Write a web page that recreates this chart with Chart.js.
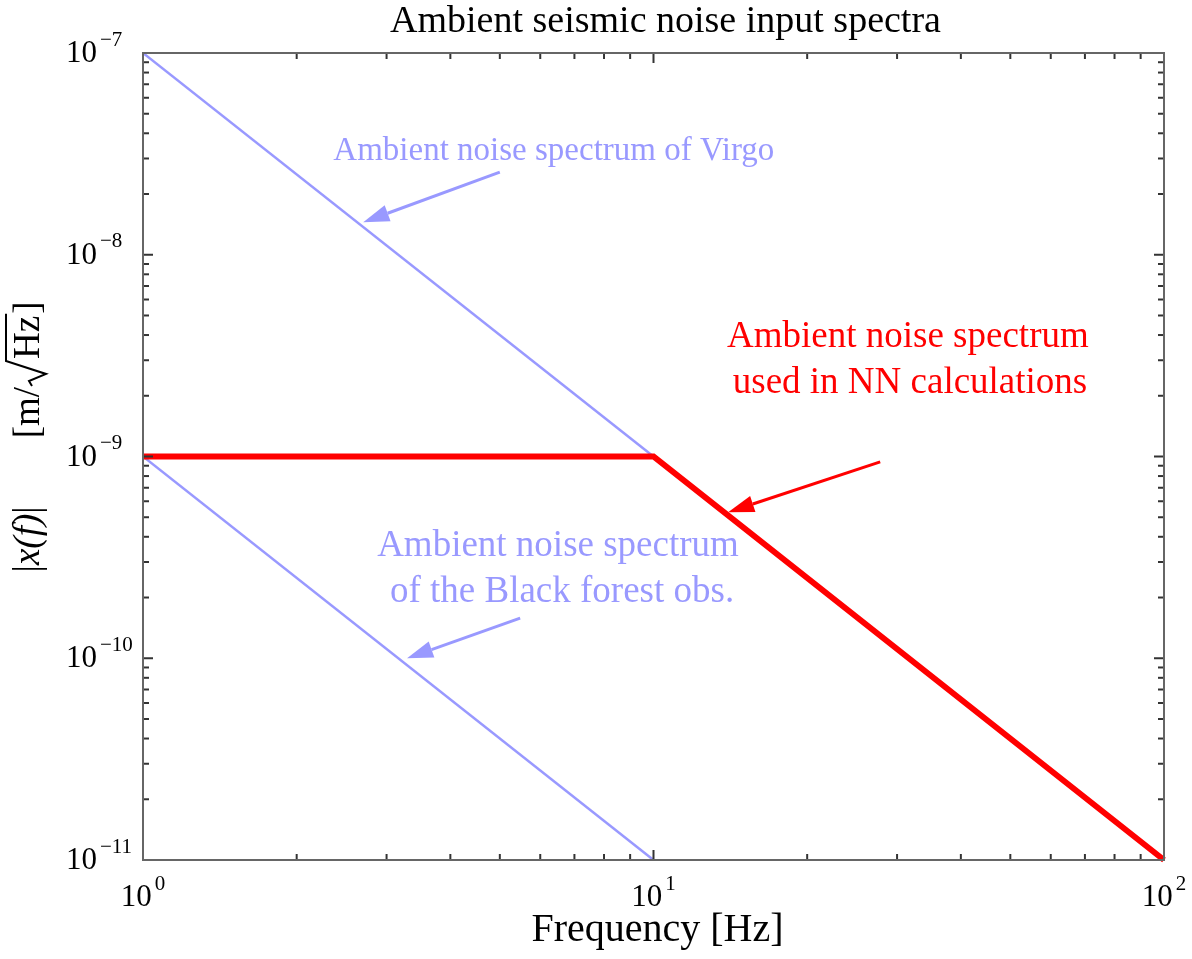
<!DOCTYPE html>
<html>
<head>
<meta charset="utf-8">
<script src="https://cdn.jsdelivr.net/npm/chart.js@4"></script>
<style>
  html, body { margin: 0; padding: 0; background: #fff; }
  #wrap { width: 1192px; height: 959px; }
</style>
</head>
<body>
<div id="wrap"><canvas id="myChart"></canvas></div>
<script>
// Spectra (frequency in Hz, amplitude in m/sqrt(Hz))
const freqVirgo = [1, 10];
const ampVirgo = [1e-7, 1e-9];

const freqBlackForest = [1, 10];
const ampBlackForest = [1e-9, 1e-11];

const freqNN = [1, 10, 100];
const ampNN = [1e-9, 1e-9, 1e-11];

// Axis decades (exponents of 10)
const xExponents = [0, 1, 2];
const yExponents = [-11, -10, -9, -8, -7];

const titleText = 'Ambient seismic noise input spectra';
const xTitle = 'Frequency [Hz]';

const blue = 'rgb(153, 153, 255)';
const red = 'rgb(255, 0, 0)';

// Annotation labels, anchored in data units
const noteLines = [
    { text: 'Ambient noise spectrum of Virgo', f: 6.38, a: 3.25e-8, color: blue, size: 33 },
    { text: 'Ambient noise spectrum', f: 31.5, a: 3.9e-9, color: red, size: 37 },
    { text: 'used in NN calculations', f: 31.8, a: 2.3e-9, color: red, size: 37 },
    { text: 'Ambient noise spectrum', f: 6.5, a: 3.6e-10, color: blue, size: 37 },
    { text: 'of the Black forest obs.', f: 6.62, a: 2.12e-10, color: blue, size: 37 }
];

// Arrows: from label (tail) to curve (head)
const arrows = [
    { f0: 5.0, a0: 2.57e-8, f1: 2.7, a1: 1.45e-8, color: blue },
    { f0: 27.8, a0: 9.4e-10, f1: 14.0, a1: 5.3e-10, color: red },
    { f0: 5.48, a0: 1.58e-10, f1: 3.29, a1: 1.0e-10, color: blue }
];

const serif = '"Liberation Serif", "Times New Roman", serif';

function toPoints(xs, ys) {
    return xs.map((v, i) => ({ x: v, y: ys[i] }));
}

function drawPower(ctx, xPos, yPos, exp, mode) {
    const base = '10';
    const sup = exp < 0 ? '\u2212' + Math.abs(exp) : String(exp);
    ctx.font = '31px ' + serif;
    const bw = ctx.measureText(base).width;
    ctx.font = '21px ' + serif;
    const sw = ctx.measureText(sup).width;
    let bx;
    if (mode === 'y') {
        bx = xPos - bw;             // base ends at xPos
    } else {
        bx = xPos - (bw + 3 + sw) / 2; // whole label centred
    }
    ctx.textBaseline = 'middle';
    ctx.textAlign = 'left';
    ctx.font = '31px ' + serif;
    ctx.fillText(base, bx, yPos);
    ctx.font = '21px ' + serif;
    ctx.fillText(sup, bx + bw + 3, yPos - 14);
}

function drawArrow(ctx, x0, y0, x1, y1, color) {
    const ang = Math.atan2(y1 - y0, x1 - x0);
    const len = 26, half = 8.5;
    const bx = x1 - len * Math.cos(ang), by = y1 - len * Math.sin(ang);
    ctx.strokeStyle = color;
    ctx.fillStyle = color;
    ctx.lineWidth = 3;
    ctx.beginPath();
    ctx.moveTo(x0, y0);
    ctx.lineTo(bx, by);
    ctx.stroke();
    ctx.beginPath();
    ctx.moveTo(x1, y1);
    ctx.lineTo(bx + half * Math.sin(ang), by - half * Math.cos(ang));
    ctx.lineTo(bx - half * Math.sin(ang), by + half * Math.cos(ang));
    ctx.closePath();
    ctx.fill();
}

// Frame, inward ticks, tick labels, titles and annotations
const decorations = {
    id: 'decorations',
    afterDatasetsDraw(chart) {
        const { ctx, chartArea: a, scales: { x, y } } = chart;
        ctx.save();

        // notes and arrows
        ctx.textAlign = 'center';
        ctx.textBaseline = 'middle';
        noteLines.forEach(n => {
            ctx.font = n.size + 'px ' + serif;
            ctx.fillStyle = n.color;
            ctx.fillText(n.text, x.getPixelForValue(n.f), y.getPixelForValue(n.a));
        });
        arrows.forEach(r => {
            drawArrow(ctx, x.getPixelForValue(r.f0), y.getPixelForValue(r.a0),
                x.getPixelForValue(r.f1), y.getPixelForValue(r.a1), r.color);
        });

        // ticks
        ctx.strokeStyle = '#333';
        ctx.lineWidth = 2;
        const tick = (x0, y0, x1, y1) => {
            ctx.beginPath(); ctx.moveTo(x0, y0); ctx.lineTo(x1, y1); ctx.stroke();
        };
        xExponents.forEach((e, i) => {
            const px = x.getPixelForValue(Math.pow(10, e));
            tick(px, a.bottom, px, a.bottom - 10);
            tick(px, a.top, px, a.top + 10);
            if (i < xExponents.length - 1) {
                for (let k = 2; k <= 9; k++) {
                    const mx = x.getPixelForValue(k * Math.pow(10, e));
                    tick(mx, a.bottom, mx, a.bottom - 6);
                    tick(mx, a.top, mx, a.top + 6);
                }
            }
        });
        yExponents.forEach((e, i) => {
            const py = y.getPixelForValue(Math.pow(10, e));
            tick(a.left, py, a.left + 10, py);
            tick(a.right, py, a.right - 10, py);
            if (i < yExponents.length - 1) {
                for (let k = 2; k <= 9; k++) {
                    const my = y.getPixelForValue(k * Math.pow(10, e));
                    tick(a.left, my, a.left + 6, my);
                    tick(a.right, my, a.right - 6, my);
                }
            }
        });

        // frame
        ctx.strokeStyle = '#666';
        ctx.lineWidth = 2;
        ctx.strokeRect(a.left, a.top, a.right - a.left, a.bottom - a.top);

        // tick labels
        ctx.fillStyle = '#000';
        xExponents.forEach(e => {
            drawPower(ctx, x.getPixelForValue(Math.pow(10, e)), a.bottom + 38, e, 'x');
        });
        yExponents.forEach(e => {
            drawPower(ctx, a.left - 46, y.getPixelForValue(Math.pow(10, e)) + 1, e, 'y');
        });

        // title and x axis title
        ctx.textAlign = 'center';
        ctx.textBaseline = 'middle';
        ctx.font = '38px ' + serif;
        ctx.fillText(titleText, (a.left + a.right) / 2 + 12, 22);
        ctx.font = '40px ' + serif;
        ctx.fillText(xTitle, (a.left + a.right) / 2 + 4, 930);

        // y axis title: |x(f)|   [m/sqrt(Hz)]
        ctx.translate(29, 437);
        ctx.rotate(-Math.PI / 2);
        ctx.textAlign = 'left';
        ctx.textBaseline = 'middle';
        const fs = 37;
        const parts = [
            { t: '|', f: fs + 'px ' + serif },
            { t: 'x(f)', f: 'italic ' + fs + 'px ' + serif },
            { t: '|', f: fs + 'px ' + serif, gap: 68 },
            { t: '[m/', f: fs + 'px ' + serif }
        ];
        let total = 0;
        parts.forEach(p => {
            ctx.font = p.f;
            p.w = ctx.measureText(p.t).width + (p.gap || 0);
            total += p.w;
        });
        ctx.font = fs + 'px ' + serif;
        const hzW = ctx.measureText('Hz').width;
        const brW = ctx.measureText(']').width;
        const radW = 26;
        total += radW + hzW + 4 + brW;
        let cx = -total / 2;
        parts.forEach(p => { ctx.font = p.f; ctx.fillText(p.t, cx, 0); cx += p.w; });
        // radical sign
        ctx.strokeStyle = '#000';
        ctx.lineWidth = 2;
        ctx.beginPath();
        ctx.moveTo(cx + 1, 3);
        ctx.lineTo(cx + 6, 0);
        ctx.lineTo(cx + 13, 17);
        ctx.lineTo(cx + radW, -23);
        ctx.lineTo(cx + radW + hzW + 4, -23);
        ctx.stroke();
        cx += radW + 2;
        ctx.font = fs + 'px ' + serif;
        ctx.fillText('Hz', cx, 0);
        cx += hzW + 2;
        ctx.fillText(']', cx, 0);

        ctx.restore();
    }
};

const ctx = document.getElementById('myChart');

const myChart = new Chart(ctx, {
    type: 'scatter',
    data: {
        datasets: [
            {
                label: 'Ambient noise spectrum used in NN calculations',
                data: toPoints(freqNN, ampNN),
                showLine: true,
                borderColor: red,
                borderWidth: 6,
                pointRadius: 0,
                order: 0,
                clip: 4
            },
            {
                label: 'Ambient noise spectrum of Virgo',
                data: toPoints(freqVirgo, ampVirgo),
                showLine: true,
                borderColor: blue,
                borderWidth: 2.5,
                pointRadius: 0,
                order: 1
            },
            {
                label: 'Ambient noise spectrum of the Black forest obs.',
                data: toPoints(freqBlackForest, ampBlackForest),
                showLine: true,
                borderColor: blue,
                borderWidth: 2.5,
                pointRadius: 0,
                order: 1
            }
        ]
    },
    options: {
        responsive: true,
        maintainAspectRatio: false,
        animation: false,
        layout: {
            padding: { left: 143, top: 53, right: 28, bottom: 99 }
        },
        scales: {
            x: {
                type: 'logarithmic',
                display: false,
                min: 1,
                max: 100
            },
            y: {
                type: 'logarithmic',
                display: false,
                min: 1e-11,
                max: 1e-7
            }
        },
        plugins: {
            legend: { display: false },
            tooltip: { enabled: false }
        }
    },
    plugins: [decorations]
});
</script>
</body>
</html>
